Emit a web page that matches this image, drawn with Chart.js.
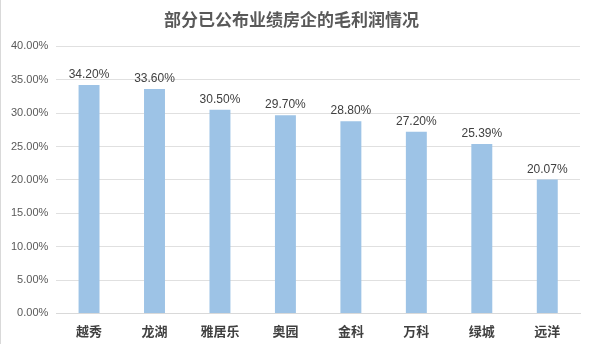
<!DOCTYPE html>
<html><head><meta charset="utf-8">
<script src="https://cdn.jsdelivr.net/npm/chart.js@4/dist/chart.umd.min.js"></script>
<style>html,body{margin:0;padding:0;background:#fff}#w{position:relative;width:590px;height:344px;box-sizing:border-box;border-left:1px solid #d9d9d9}</style>
</head><body><div id="w"><canvas id="c" width="589" height="344"></canvas></div>
<script>
const categories = ["越秀","龙湖","雅居乐","奥园","金科","万科","绿城","远洋"];
const margins = [34.20,33.60,30.50,29.70,28.80,27.20,25.39,20.07];
const labelPlugin = {
  id:'lbl',
  afterDatasetsDraw(chart){
    const ctx=chart.ctx; const meta=chart.getDatasetMeta(0);
    ctx.save(); ctx.font='12px "Liberation Sans", Arial, sans-serif'; ctx.fillStyle='#404040';
    ctx.textAlign='center'; ctx.textBaseline='bottom';
    meta.data.forEach((b,i)=>{ ctx.fillText(margins[i].toFixed(2)+'%', b.x, b.y-4); });
    ctx.restore();
  }
};
new Chart(document.getElementById('c'),{
  type:'bar',
  data:{labels:categories,datasets:[{data:margins,backgroundColor:'#9dc3e6',barPercentage:0.64,categoryPercentage:0.5}]},
  options:{responsive:false,animation:false,
    layout:{padding:{left:2,right:10,top:9,bottom:3}},
    plugins:{legend:{display:false},tooltip:{enabled:false},
      title:{display:true,text:'部分已公布业绩房企的毛利润情况',color:'#595959',font:{size:17,weight:'bold',family:'"Noto Sans CJK SC", sans-serif'},padding:{top:0,bottom:17}}},
    scales:{
      x:{grid:{display:false},border:{color:'#d9d9d9'},ticks:{color:'#404040',font:{size:13,weight:'bold',family:'"Noto Sans CJK SC", sans-serif'},padding:2}},
      y:{min:0,max:40,ticks:{stepSize:5,color:'#595959',font:{size:11,family:'"Liberation Sans", Arial, sans-serif'},padding:8,callback:v=>v.toFixed(2)+'%'},grid:{color:'#e0e0e0',drawTicks:false},border:{display:false}}
    }
  },
  plugins:[labelPlugin]
});
</script></body></html>
